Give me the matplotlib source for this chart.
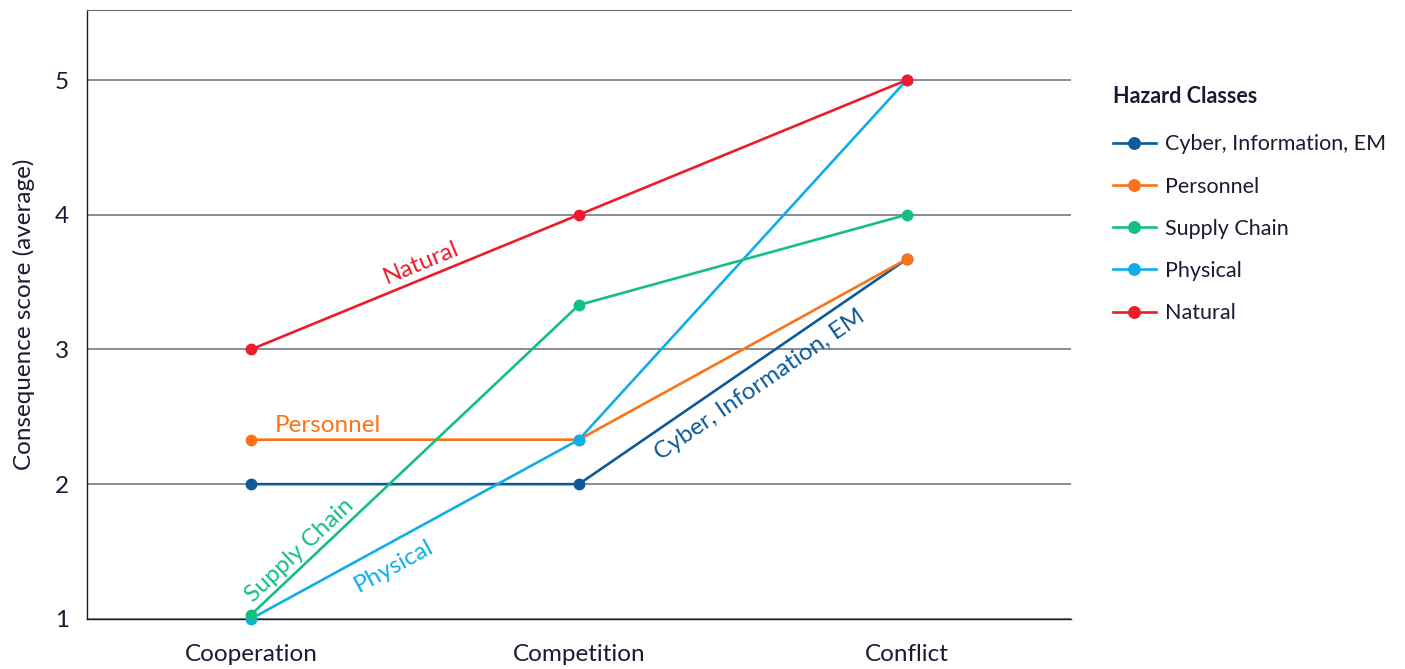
import matplotlib.pyplot as plt
import numpy as np

phases = ["Cooperation", "Competition", "Conflict"]
series_names = ["Cyber, Information, EM", "Personnel", "Supply Chain", "Physical", "Natural"]
cyber = [2.0, 2.0, 3.67]
personnel = [2.33, 2.33, 3.67]
supply_chain = [1.03, 3.33, 4.0]
physical = [1.0, 2.33, 5.0]
natural = [3.0, 4.0, 5.0]

colors = ["#0E5A97", "#FA7319", "#14BF86", "#0FAEE9", "#EC1C2A"]
layer = [3, 3.1, 3.3, 3.2, 3.4]

plt.rcParams["font.family"] = ["Lato", "DejaVu Sans"]
text_color = "#1a1a33"
fs = 17.5

fig = plt.figure(figsize=(14.05, 6.69), dpi=100)
ax = fig.add_axes([0.062, 0.075, 0.700, 0.910])

x = np.arange(len(phases))
all_series = [cyber, personnel, supply_chain, physical, natural]
for name, vals, col, z in zip(series_names, all_series, colors, layer):
    ax.plot(x, vals, color=col, lw=1.9, marker="o", markersize=7.5,
            label=name, zorder=z, clip_on=False)

ax.set_xlim(-0.5, 2.5)
ax.set_ylim(1, 5.52)
ax.set_xticks(x)
ax.set_xticklabels(phases)
ax.set_yticks([1, 2, 3, 4, 5])
ax.tick_params(axis="both", length=0, labelsize=fs, colors=text_color)
ax.tick_params(axis="x", pad=18)
ax.tick_params(axis="y", pad=13)
ax.grid(axis="y", color="#6b6b7b", lw=1.1, zorder=1)
ax.set_axisbelow(True)
for side in ["left", "bottom"]:
    ax.spines[side].set_color("#1a1a33")
    ax.spines[side].set_linewidth(1.0)
ax.spines["right"].set_visible(False)
ax.spines["top"].set_color("#6b6b7b")
ax.set_ylabel("Consequence score (average)", fontsize=fs, color=text_color, labelpad=14)

# inline labels rotated along their segments
fig.canvas.draw()


def seg_angle(p0, p1):
    a = ax.transData.transform(p0)
    b = ax.transData.transform(p1)
    return np.degrees(np.arctan2(b[1] - a[1], b[0] - a[0]))


def seg_label(text, vals, i, frac, offset, col):
    p0 = (x[i], vals[i])
    p1 = (x[i + 1], vals[i + 1])
    ang = seg_angle(p0, p1)
    px = p0[0] + frac * (p1[0] - p0[0])
    py = p0[1] + frac * (p1[1] - p0[1])
    ax.annotate(text, (px, py), xytext=(0, offset), textcoords="offset points",
                rotation=ang, rotation_mode="anchor", ha="center", va="bottom",
                fontsize=fs, color=col)


seg_label("Natural", natural, 0, 0.53, 4, colors[4])
seg_label("Supply Chain", supply_chain, 0, 0.17, 3, colors[2])
seg_label("Physical", physical, 0, 0.45, -27, colors[3])
seg_label("Cyber, Information, EM", cyber, 1, 0.57, -27, colors[0])
ax.annotate("Personnel", (x[0], personnel[0]), xytext=(17, 3), textcoords="offset points",
            ha="left", va="bottom", fontsize=fs, color=colors[1])

leg = ax.legend(loc="upper left", bbox_to_anchor=(1.034, 0.89), frameon=False,
                title="Hazard Classes", fontsize=15.5, title_fontsize=15.5,
                handlelength=2.0, labelspacing=1.03, handletextpad=0.45,
                markerscale=1.1, borderaxespad=0)
leg._legend_box.align = "left"
leg._legend_box.sep = 20
leg.get_title().set_fontweight("bold")
leg.get_title().set_color(text_color)
for t in leg.get_texts():
    t.set_color(text_color)

fig.savefig("out.png", dpi=100)
